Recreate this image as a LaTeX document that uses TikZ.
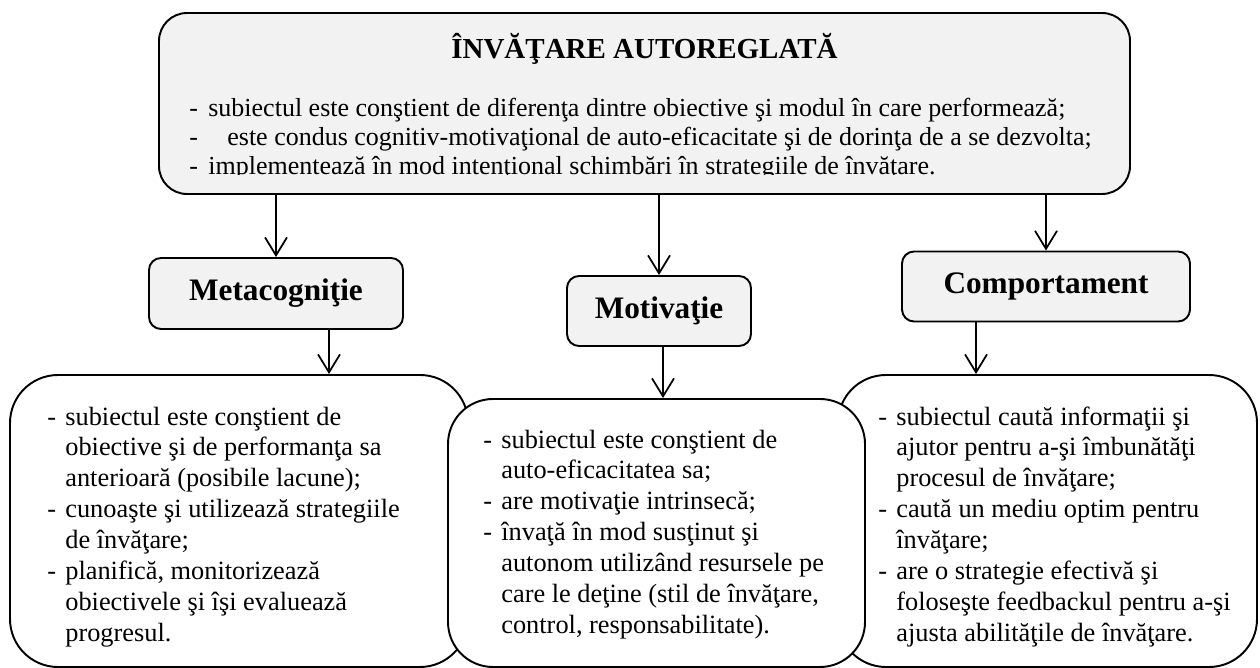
\documentclass[tikz,border=0pt]{standalone}
\usepackage{fontspec}
\setmainfont{Liberation Serif}
\usetikzlibrary{arrows.meta}

\newlength{\du}
\setlength{\du}{0.02cm}

\begin{document}
\begin{tikzpicture}
\pgftransformyscale{-1.000000}
\definecolor{boxgrey}{rgb}{0.949000, 0.949000, 0.949000}
\tikzset{
  greybox/.style={draw, line width=1.1pt, fill=boxgrey, inner sep=0pt},
  whitebox/.style={draw, line width=1.1pt, fill=white, inner sep=0pt},
  arr/.style={line width=1pt, -{Straight Barb[length=0.36cm, width=0.44cm]}},
  listtext/.style={anchor=base west, inner sep=0pt, font=\fontsize{15pt}{17.6pt}\selectfont},
  headtext/.style={font=\fontsize{17.8pt}{20pt}\selectfont\bfseries}
}
\useasboundingbox (0\du,0\du) rectangle (1260\du,668\du);
% top box
\node[greybox, rounded corners=28\du, minimum width=971\du, minimum height=181\du] (self) at (644.5\du,103.5\du){};
\node[anchor=base, inner sep=0pt] (selftitle) at (644.5\du,59\du){\fontsize{16.5pt}{20pt}\selectfont\bfseries ÎNVĂŢARE AUTOREGLATĂ};
\begin{scope}
\clip (159\du,13\du) rectangle (1130\du,175\du);
\node[listtext] (selftext) at (189\du,117\du){\fontsize{14.8pt}{16.4pt}\selectfont
\begin{tabular}[t]{@{}p{19\du}@{}l@{}}
- & subiectul este conştient de diferenţa dintre obiective şi modul în care performează;\\
- & \hspace{19\du}este condus cognitiv-motivaţional de auto-eficacitate şi de dorinţa de a se dezvolta;\\
- & implementează în mod intenţional schimbări în strategiile de învăţare.
\end{tabular}};
\end{scope}
% middle boxes
\node[greybox, headtext, rounded corners=12\du, minimum width=254\du, minimum height=71\du] (meta) at (276\du,293.5\du){Metacogniţie};
\node[greybox, headtext, rounded corners=12\du, minimum width=184\du, minimum height=70\du] (motiv) at (659\du,311\du){Motivaţie};
\node[greybox, headtext, rounded corners=12\du, minimum width=288\du, minimum height=70\du] (comp) at (1046\du,286.5\du){Comportament};
% bottom boxes
\node[whitebox, rounded corners=48\du, minimum width=458\du, minimum height=292\du] (metabox) at (239\du,521\du){};
\node[whitebox, rounded corners=48\du, minimum width=419\du, minimum height=292\du] (compbox) at (1047.5\du,521\du){};
\node[whitebox, rounded corners=45\du, minimum width=417\du, minimum height=268\du] (motivbox) at (656.5\du,533\du){};
\node[listtext] (metatext) at (47\du,425\du){\begin{tabular}[t]{@{}p{18\du}@{}l@{}}
- & subiectul este conştient de\\
  & obiective şi de performanţa sa\\
  & anterioară (posibile lacune);\\
- & cunoaşte şi utilizează strategiile\\
  & de învăţare;\\
- & planifică, monitorizează\\
  & obiectivele şi îşi evaluează\\
  & progresul.
\end{tabular}};
\node[listtext] (motivtext) at (483\du,448\du){\begin{tabular}[t]{@{}p{18\du}@{}l@{}}
- & subiectul este conştient de\\
  & auto-eficacitatea sa;\\
- & are motivaţie intrinsecă;\\
- & învaţă în mod susţinut şi\\
  & autonom utilizând resursele pe\\
  & care le deţine (stil de învăţare,\\
  & control, responsabilitate).
\end{tabular}};
\node[listtext] (comptext) at (878\du,425\du){\begin{tabular}[t]{@{}p{18\du}@{}l@{}}
- & subiectul caută informaţii şi\\
  & ajutor pentru a-şi îmbunătăţi\\
  & procesul de învăţare;\\
- & caută un mediu optim pentru\\
  & învăţare;\\
- & are o strategie efectivă şi\\
  & foloseşte feedbackul pentru a-şi\\
  & ajusta abilităţile de învăţare.
\end{tabular}};
% arrows
\coordinate (metaout) at ([xshift=53\du]meta.south);
\coordinate (motivout) at ([xshift=4\du]motiv.south);
\coordinate (compout) at ([xshift=-70\du]comp.south);
\draw[arr] (self.south -| meta.north) -- (meta.north);
\draw[arr] (self.south -| motiv.north) -- (motiv.north);
\draw[arr] (self.south -| comp.north) -- (comp.north);
\draw[arr] (metaout) -- (metaout |- metabox.north);
\draw[arr] (motivout) -- (motivout |- motivbox.north);
\draw[arr] (compout) -- (compout |- compbox.north);
\end{tikzpicture}
\end{document}
